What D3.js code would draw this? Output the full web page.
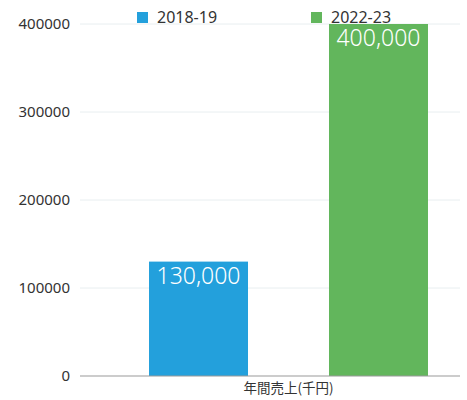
<!DOCTYPE html>
<html>
<head>
<meta charset="utf-8">
<script src="https://cdn.jsdelivr.net/npm/d3@7"></script>
<style>
  body { margin: 0; background: #fff; }
  text { font-family: "Noto Sans", "Noto Sans CJK JP", sans-serif; }
</style>
</head>
<body>
<div id="viz"></div>
<script>
const categories = ["年間売上(千円)"]
const seriesNames = ["2018-19", "2022-23"]
const seriesValues = [130000, 400000]
const yTicks = [0, 100000, 200000, 300000, 400000]

const colors = {
    blue: "#23a0dc",
    green: "#62b65c",
    grid: "#e8eef0",
    axis: "#9a9a9a",
    text: "#333333"
}

const width = 467, height = 400
const margin = { top: 24, right: 7, bottom: 24, left: 80 }

const svg = d3.select("#viz").append("svg")
    .attr("width", width)
    .attr("height", height)

const y = d3.scaleLinear().domain([0, 400000]).range([height - margin.bottom, margin.top])

// one category band, two bars inside it
const x0 = d3.scaleBand().domain(categories).range([115, 462])
const x1 = d3.scaleBand().domain(seriesNames).range([0, x0.bandwidth()])
    .paddingInner(0.45).paddingOuter(0.189)

const barColor = d3.scaleOrdinal().domain(seriesNames).range([colors.blue, colors.green])

// gridlines
svg.append("g")
    .selectAll("line")
    .data(yTicks.slice(1))
    .join("line")
    .attr("x1", margin.left).attr("x2", width - margin.right)
    .attr("y1", d => y(d)).attr("y2", d => y(d))
    .attr("stroke", colors.grid)
    .attr("stroke-width", 1)

// y axis labels
const yAxis = svg.append("g")
    .attr("transform", `translate(${margin.left - 10},0)`)
    .call(d3.axisLeft(y).tickValues(yTicks).tickSize(0).tickPadding(0).tickFormat(d3.format("d")))
yAxis.select(".domain").remove()
yAxis.selectAll("text").attr("font-size", 15).attr("fill", colors.text)

// bars
const group = svg.append("g")
    .selectAll("g")
    .data(categories)
    .join("g")
    .attr("transform", d => `translate(${x0(d)},0)`)

const bars = seriesNames.map((s, i) => ({ name: s, value: seriesValues[i] }))

group.selectAll("rect")
    .data(bars)
    .join("rect")
    .attr("x", d => x1(d.name))
    .attr("width", x1.bandwidth())
    .attr("y", d => y(d.value))
    .attr("height", d => y(0) - y(d.value))
    .attr("fill", d => barColor(d.name))

group.selectAll("text.value")
    .data(bars)
    .join("text")
    .attr("class", "value")
    .attr("x", d => x1(d.name) + x1.bandwidth() / 2)
    .attr("y", d => y(d.value) + 22)
    .attr("text-anchor", "middle")
    .attr("font-size", 23)
    .attr("font-weight", 300)
    .attr("fill", "#fff")
    .text(d => d3.format(",")(d.value))

// baseline
svg.append("line")
    .attr("x1", margin.left).attr("x2", width - margin.right)
    .attr("y1", y(0)).attr("y2", y(0))
    .attr("stroke", colors.axis)
    .attr("stroke-width", 1.2)

// category label
const xAxis = svg.append("g")
    .attr("transform", `translate(0,${y(0)})`)
    .call(d3.axisBottom(x0).tickSize(0).tickPadding(7))
xAxis.select(".domain").remove()
xAxis.selectAll("text")
    .attr("font-size", 13.5)
    .attr("fill", colors.text)
    .style("font-family", "'Noto Sans CJK JP', sans-serif")

// legend
const legendX = [137, 311]
const legend = svg.append("g")
    .selectAll("g")
    .data(seriesNames)
    .join("g")
    .attr("transform", (d, i) => `translate(${legendX[i]},12)`)
legend.append("rect")
    .attr("width", 11).attr("height", 11)
    .attr("fill", d => barColor(d))
legend.append("text")
    .attr("x", 20).attr("y", 11)
    .attr("font-size", 16)
    .attr("fill", colors.text)
    .text(d => d)
</script>
</body>
</html>
